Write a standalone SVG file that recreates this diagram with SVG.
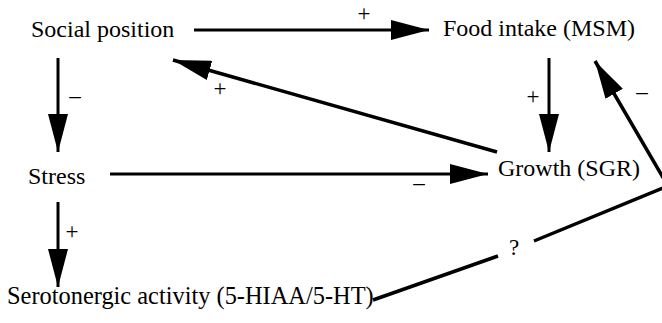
<svg xmlns="http://www.w3.org/2000/svg" width="662" height="323" viewBox="0 0 662 323">
<style>
.t{font-family:"Liberation Serif","Times New Roman",serif;font-size:24px;fill:#000}
.s{font-family:"Liberation Serif","Times New Roman",serif;font-size:23px;fill:#000}
.c{stroke:#000;stroke-width:3;fill:none}
</style>
<defs>
<marker id="ah" markerUnits="userSpaceOnUse" markerWidth="38" markerHeight="20" refX="38" refY="10" orient="auto">
<path d="M0,0 L38,10 L0,20 z" fill="#000"/>
</marker>
</defs>
<rect width="662" height="323" fill="#fff"/>
<g id="social"><text class="t" x="31" y="37">Social position</text></g>
<g id="food"><text class="t" x="443" y="36">Food intake (MSM)</text></g>
<g id="stress"><text class="t" x="28" y="184">Stress</text></g>
<g id="growth"><text class="t" x="498" y="176">Growth (SGR)</text></g>
<g id="sero"><text class="t" x="7" y="304" style="font-size:24.4px">Serotonergic activity (5-HIAA/5-HT)</text></g>
<g id="connectors">
<path class="c" d="M194,30 L429,30" marker-end="url(#ah)"/>
<path class="c" d="M58,58 L58,152" marker-end="url(#ah)"/>
<path class="c" d="M549,58 L549,152" marker-end="url(#ah)"/>
<path class="c" d="M497,152 L173,60" marker-end="url(#ah)" style="stroke-width:3.5"/>
<path class="c" d="M110,174 L488,174" marker-end="url(#ah)"/>
<path class="c" d="M58,202 L58,287" marker-end="url(#ah)"/>
<path class="c" d="M373,300 L498,256" style="stroke-width:3.5"/>
<path class="c" d="M534,241 L668,186 L595,61" marker-end="url(#ah)" style="stroke-width:3.5"/>
<text class="s" x="364" y="21" text-anchor="middle">+</text>
<text class="s" x="75" y="103" text-anchor="middle">–</text>
<text class="s" x="220" y="96" text-anchor="middle">+</text>
<text class="s" x="533" y="104" text-anchor="middle">+</text>
<text class="s" x="419" y="190" text-anchor="middle">–</text>
<text class="s" x="72" y="239" text-anchor="middle">+</text>
<text class="s" x="642" y="99" text-anchor="middle">–</text>
<text class="s" x="514" y="255" text-anchor="middle">?</text>
</g>
</svg>
